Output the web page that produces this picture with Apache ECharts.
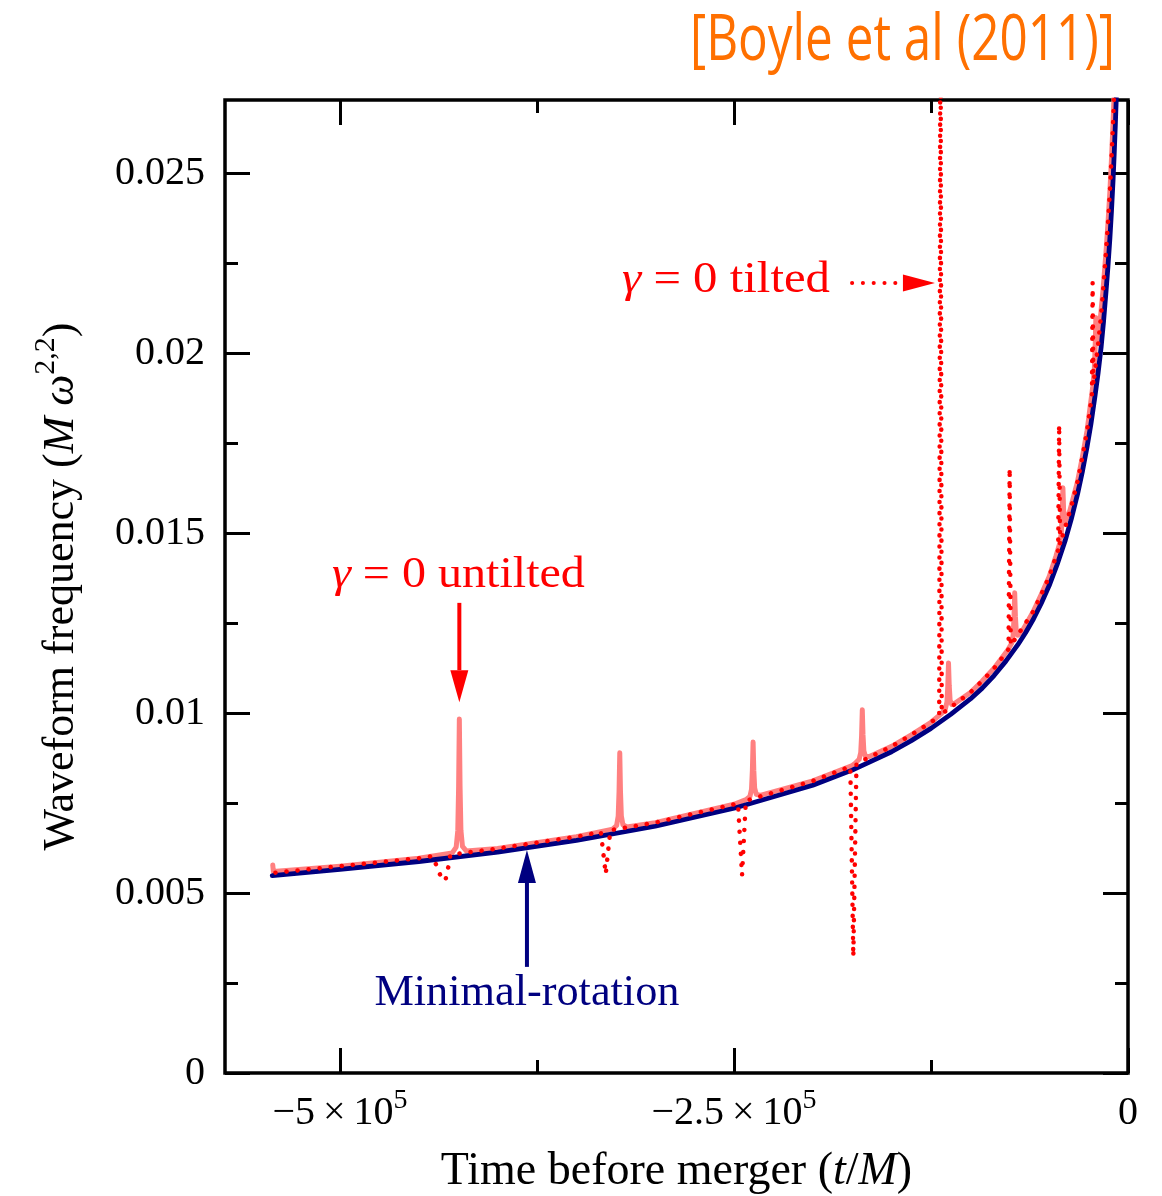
<!DOCTYPE html>
<html>
<head>
<meta charset="utf-8">
<script src="https://cdn.jsdelivr.net/npm/echarts@6/dist/echarts.min.js"></script>
<style>
  html, body { margin: 0; padding: 0; background: #fff; }
  #chart { width: 1162px; height: 1196px; }
</style>
</head>
<body>
<div id="chart"></div>
<script>
// ---------------- data ----------------
const X_MIN = -573000;
const X_MAX = 0;
const Y_MIN = 0;
const Y_MAX = 0.02705;

const X_TICKS_MAJOR = [-500000, -250000, 0];
const X_TICKS_MINOR = [-375000, -125000];
const X_LABEL_MANTISSA = ['\u22125\u2009\u00d7\u200910', '\u22122.5\u2009\u00d7\u200910', '0'];
const X_LABEL_EXPONENT = ['5', '5', ''];

const Y_TICKS_MAJOR = [0, 0.005, 0.01, 0.015, 0.02, 0.025];
const Y_TICK_LABELS = ['0', '0.005', '0.01', '0.015', '0.02', '0.025'];
const Y_TICKS_MINOR = [0.0025, 0.0075, 0.0125, 0.0175, 0.0225];

// Minimal-rotation frame (navy)
const MINIMAL_ROTATION = [
  [-543000, 0.00549], [-500000, 0.00566], [-450000, 0.00588], [-400000, 0.00614],
  [-350000, 0.00647], [-300000, 0.00686], [-250000, 0.00736], [-200000, 0.00800],
  [-175000, 0.00842], [-150000, 0.00893], [-137500, 0.00924], [-125000, 0.00958],
  [-112500, 0.00997], [-100000, 0.01040], [-92500, 0.01070], [-85000, 0.01105],
  [-77500, 0.01145], [-70000, 0.01190], [-65000, 0.01224], [-60000, 0.01262],
  [-55000, 0.01306], [-50000, 0.01355], [-45000, 0.01413], [-40000, 0.01478],
  [-36000, 0.01540], [-32000, 0.01610], [-29000, 0.01671], [-26000, 0.01740],
  [-23500, 0.01805], [-21000, 0.01880], [-19000, 0.01945], [-17000, 0.02020],
  [-15500, 0.02090], [-14000, 0.02170], [-12750, 0.02240], [-11500, 0.02320],
  [-10500, 0.02395], [-9500, 0.02480], [-8750, 0.02555], [-8000, 0.02640],
  [-7400, 0.02715], [-6800, 0.02800]
];

// gamma = 0 untilted (salmon, solid)
const GAMMA0_UNTILTED = [
  [-542700, 0.00578], [-542300, 0.00560], [-541500, 0.00557],
  [-500000, 0.00575], [-450000, 0.00597],
  [-428800, 0.00612], [-426300, 0.00628], [-425300, 0.00673], [-424750, 0.00797],
  [-424300, 0.00984],
  [-423850, 0.00797], [-423300, 0.00675], [-422300, 0.00630], [-419800, 0.00617],
  [-400000, 0.00624], [-350000, 0.00657],
  [-327000, 0.00678], [-324500, 0.00688], [-323500, 0.00714], [-322950, 0.00784],
  [-322500, 0.00890],
  [-322050, 0.00784], [-321500, 0.00715], [-320500, 0.00690], [-318000, 0.00684],
  [-300000, 0.00696], [-250000, 0.00747],
  [-242400, 0.00760], [-239900, 0.00769], [-238900, 0.00789], [-238350, 0.00842],
  [-237900, 0.00920],
  [-237450, 0.00842], [-236900, 0.00792], [-235900, 0.00775], [-233400, 0.00772],
  [-200000, 0.00812], [-175000, 0.00855],
  [-173100, 0.00861], [-170600, 0.00872], [-169600, 0.00891], [-169050, 0.00938],
  [-168600, 0.01010],
  [-168150, 0.00940], [-167600, 0.00895], [-166600, 0.00880], [-164100, 0.00880],
  [-150000, 0.00908], [-137500, 0.00940], [-125000, 0.00975],
  [-118400, 0.00999], [-115900, 0.01012], [-114900, 0.01031], [-114350, 0.01075],
  [-113900, 0.01140],
  [-113450, 0.01078], [-112900, 0.01037], [-111900, 0.01025], [-109400, 0.01029],
  [-100000, 0.01058], [-92500, 0.01090], [-85000, 0.01125],
  [-76400, 0.01175], [-73900, 0.01194], [-72900, 0.01216], [-72350, 0.01265],
  [-71900, 0.01335],
  [-71450, 0.01270], [-70900, 0.01228], [-69900, 0.01217], [-67400, 0.01227],
  [-60000, 0.01284], [-55000, 0.01331], [-50000, 0.01380],
  [-45800, 0.01436], [-43300, 0.01473], [-42300, 0.01502], [-41750, 0.01554],
  [-41300, 0.01627],
  [-40850, 0.01565], [-40300, 0.01527], [-39300, 0.01527], [-36800, 0.01565],
  [-32000, 0.01645], [-29000, 0.01711], [-26000, 0.01785],
  [-24900, 0.01822], [-22400, 0.01907], [-21400, 0.01954], [-20850, 0.02016],
  [-20400, 0.02100],
  [-19950, 0.02053], [-19400, 0.02033], [-18400, 0.02059], [-15900, 0.02174],
  [-14000, 0.02280], [-12750, 0.02360], [-11500, 0.02450], [-10500, 0.02540],
  [-9500, 0.02640], [-8750, 0.02725], [-8000, 0.02820]
];

// gamma = 0 tilted (red, dotted)
const GAMMA0_TILTED = [
  [-541000, 0.00557], [-500000, 0.00575], [-450000, 0.00597],
  [-441500, 0.00603], [-439500, 0.00584], [-436500, 0.00551], [-433200, 0.00534],
  [-431300, 0.00573], [-430000, 0.00607],
  [-400000, 0.00624], [-350000, 0.00657],
  [-334500, 0.00670], [-331400, 0.00553], [-328500, 0.00675],
  [-300000, 0.00696], [-250000, 0.00747],
  [-247500, 0.00750], [-244900, 0.00550], [-242500, 0.00757],
  [-200000, 0.00812],
  [-176200, 0.00852], [-174300, 0.00323], [-172300, 0.00860],
  [-150000, 0.00908], [-137500, 0.00940], [-125000, 0.00975],
  [-119800, 0.00992], [-119000, 0.03200], [-118200, 0.00998],
  [-100000, 0.01058], [-92500, 0.01090], [-85000, 0.01125],
  [-75800, 0.01178], [-75100, 0.01682], [-74400, 0.01188],
  [-60000, 0.01284], [-55000, 0.01331], [-50000, 0.01380],
  [-44300, 0.01454], [-43700, 0.01802], [-43100, 0.01469],
  [-36000, 0.01575], [-32000, 0.01645], [-29000, 0.01711], [-26000, 0.01785],
  [-22900, 0.01885], [-22450, 0.02197], [-22000, 0.01913],
  [-19000, 0.02025], [-17000, 0.02110], [-15500, 0.02195], [-14000, 0.02280],
  [-12750, 0.02360], [-11500, 0.02450], [-10500, 0.02540], [-9500, 0.02640],
  [-8750, 0.02725], [-8000, 0.02820]
];

// annotation anchors in data coordinates
const UNTILTED_ARROW = [[-424300, 0.01307], [-424300, 0.01031]];   // tail, tip
const UNTILTED_TEXT_AT = [-424900, 0.01384];
const MINIMAL_ARROW = [[-381400, 0.00295], [-381400, 0.00620]];    // tail, tip
const MINIMAL_TEXT_AT = [-381400, 0.00222];
const TILTED_ARROW = [[-175100, 0.02196], [-122500, 0.02196]];     // tail, tip
const TILTED_TEXT_AT = [-255100, 0.02202];

// ---------------- chart ----------------
const SERIF = '"Liberation Serif", "DejaVu Serif", serif';
const chart = echarts.init(document.getElementById('chart'), null, { renderer: 'canvas' });

const GRID_RECT = { left: 225, top: 100, width: 903, height: 973 };

function tickAxis(kind, gridIndex, position, values, len, labels) {
  const ax = {
    type: 'value', gridIndex: gridIndex, position: position,
    min: kind === 'x' ? X_MIN : Y_MIN,
    max: kind === 'x' ? X_MAX : Y_MAX,
    axisLine: { show: false, onZero: false },
    splitLine: { show: false },
    axisTick: { show: true, inside: true, length: len, customValues: values,
                lineStyle: { color: '#000', width: 3 } },
    axisLabel: { show: false }
  };
  if (labels) ax.axisLabel = labels;
  return ax;
}

const xLabel = {
  show: true, customValues: X_TICKS_MAJOR, margin: 14,
  showMinLabel: true, showMaxLabel: true,
  formatter: function (v) {
    const i = X_TICKS_MAJOR.indexOf(v);
    if (i < 0) return '';
    return '{n|' + X_LABEL_MANTISSA[i] + '}' + (X_LABEL_EXPONENT[i] ? '{s|' + X_LABEL_EXPONENT[i] + '}' : '');
  },
  rich: {
    n: { fontFamily: SERIF, fontSize: 40, color: '#000', lineHeight: 46, verticalAlign: 'bottom' },
    s: { fontFamily: SERIF, fontSize: 28, color: '#000', lineHeight: 28, verticalAlign: 'top' }
  }
};
const yLabel = {
  show: true, customValues: Y_TICKS_MAJOR, margin: 20,
  showMinLabel: true, showMaxLabel: true,
  fontFamily: SERIF, fontSize: 40, color: '#000',
  formatter: function (v) {
    let best = 0;
    Y_TICKS_MAJOR.forEach(function (t, i) { if (Math.abs(t - v) < Math.abs(Y_TICKS_MAJOR[best] - v)) best = i; });
    return Y_TICK_LABELS[best];
  }
};

const xMain = tickAxis('x', 0, 'bottom', X_TICKS_MAJOR, 25, xLabel);
xMain.name = '{r|Time before merger (}{i|t}{r|/}{i|M}{r|)}';
xMain.nameLocation = 'middle';
xMain.nameGap = 76;
xMain.nameTextStyle = { rich: {
  r: { fontFamily: SERIF, fontSize: 46, color: '#000' },
  i: { fontFamily: SERIF, fontSize: 46, color: '#000', fontStyle: 'italic' }
} };

const yMain = tickAxis('y', 0, 'left', Y_TICKS_MAJOR, 25, yLabel);
yMain.name = '{r|Waveform frequency (}{i|M}{r| }{i|\u03c9}{s|2,2}{r|)}';
yMain.nameLocation = 'middle';
yMain.nameRotate = 90;
yMain.nameGap = 142;
yMain.nameTextStyle = { rich: {
  r: { fontFamily: SERIF, fontSize: 44, color: '#000', lineHeight: 52, verticalAlign: 'bottom' },
  i: { fontFamily: SERIF, fontSize: 44, color: '#000', fontStyle: 'italic', lineHeight: 52, verticalAlign: 'bottom' },
  s: { fontFamily: SERIF, fontSize: 30, color: '#000', lineHeight: 30, verticalAlign: 'top' }
} };

const option = {
  animation: false,
  backgroundColor: '#ffffff',
  grid: [
    Object.assign({ show: true, borderColor: '#000', borderWidth: 3.5, backgroundColor: 'transparent',
                    containLabel: false, outerBoundsMode: 'none' }, GRID_RECT),
    Object.assign({ show: false, containLabel: false, outerBoundsMode: 'none' }, GRID_RECT)
  ],
  xAxis: [
    xMain,
    tickAxis('x', 0, 'top', X_TICKS_MAJOR, 25),
    tickAxis('x', 1, 'bottom', X_TICKS_MINOR, 13),
    tickAxis('x', 1, 'top', X_TICKS_MINOR, 13)
  ],
  yAxis: [
    yMain,
    tickAxis('y', 0, 'right', Y_TICKS_MAJOR, 25),
    tickAxis('y', 1, 'left', Y_TICKS_MINOR, 13),
    tickAxis('y', 1, 'right', Y_TICKS_MINOR, 13)
  ],
  series: [
    { type: 'line', name: 'untilted', data: GAMMA0_UNTILTED, xAxisIndex: 0, yAxisIndex: 0,
      showSymbol: false, symbol: 'none', clip: true, z: 2,
      lineStyle: { color: '#ff8080', width: 5, join: 'round', cap: 'round' } },
    { type: 'line', name: 'minimal', data: MINIMAL_ROTATION, xAxisIndex: 0, yAxisIndex: 0,
      showSymbol: false, symbol: 'none', clip: true, z: 3,
      lineStyle: { color: '#000080', width: 4.8, join: 'round', cap: 'round' } },
    { type: 'line', name: 'tilted', data: GAMMA0_TILTED, xAxisIndex: 0, yAxisIndex: 0,
      showSymbol: false, symbol: 'none', clip: true, z: 4,
      lineStyle: { color: '#ff0000', width: 4.5, type: [0.1, 11], cap: 'round', join: 'round' } }
  ]
};
chart.setOption(option);

function px(pt) { return chart.convertToPixel({ xAxisIndex: 0, yAxisIndex: 0 }, pt); }

function vArrow(tail, tip, color, headW, headL) {
  const a = px(tail), b = px(tip);
  const dir = b[1] < a[1] ? -1 : 1;
  const baseY = b[1] - dir * headL;
  return [
    { type: 'line', shape: { x1: a[0], y1: a[1], x2: b[0], y2: baseY },
      style: { stroke: color, lineWidth: 4 }, z: 100 },
    { type: 'polygon', shape: { points: [[b[0] - headW / 2, baseY], [b[0] + headW / 2, baseY], [b[0], b[1]]] },
      style: { fill: color }, z: 100 }
  ];
}

const measureCtx = document.createElement('canvas').getContext('2d');
function measure(parts) {
  let w = 0;
  parts.forEach(function (p) { measureCtx.font = p[0]; w += measureCtx.measureText(p[1]).width; });
  return w || 1;
}

function annotate() {
  const els = [];
  els.push.apply(els, vArrow(UNTILTED_ARROW[0], UNTILTED_ARROW[1], '#ff0000', 18, 32));
  els.push.apply(els, vArrow(MINIMAL_ARROW[0], MINIMAL_ARROW[1], '#000080', 18, 33));

  const ta = px(TILTED_ARROW[0]), tb = px(TILTED_ARROW[1]);
  els.push({ type: 'line', shape: { x1: ta[0], y1: ta[1], x2: tb[0] - 34, y2: tb[1] },
             style: { stroke: '#ff0000', lineWidth: 4, lineDash: [0.1, 10.7], lineCap: 'round' }, z: 100 });
  els.push({ type: 'polygon', shape: { points: [[tb[0] - 32, tb[1] - 8.5], [tb[0] - 32, tb[1] + 8.5], [tb[0], tb[1]]] },
             style: { fill: '#ff0000' }, z: 100 });

  const FS = 44;
  const fItal = 'italic ' + FS + 'px "Liberation Serif"';
  const fReg = FS + 'px "Liberation Serif"';
  const richRed = {
    g: { fontFamily: SERIF, fontSize: FS, fontStyle: 'italic', fill: '#ff0000' },
    r: { fontFamily: SERIF, fontSize: FS, fill: '#ff0000' }
  };
  const u = px(UNTILTED_TEXT_AT);
  els.push({ type: 'text', x: u[0], y: u[1], z: 100,
             scaleX: 253 / measure([[fItal, '\u03b3'], [fReg, ' = 0 untilted']]),
             style: { text: '{g|\u03b3}{r| = 0 untilted}', rich: richRed, align: 'center', verticalAlign: 'middle',
                      fontFamily: SERIF, fontSize: FS, fill: '#ff0000' } });
  const t = px(TILTED_TEXT_AT);
  els.push({ type: 'text', x: t[0], y: t[1], z: 100,
             scaleX: 208 / measure([[fItal, '\u03b3'], [fReg, ' = 0 tilted']]),
             style: { text: '{g|\u03b3}{r| = 0 tilted}', rich: richRed, align: 'center', verticalAlign: 'middle',
                      fontFamily: SERIF, fontSize: FS, fill: '#ff0000' } });
  const m = px(MINIMAL_TEXT_AT);
  els.push({ type: 'text', x: m[0], y: m[1], z: 100,
             scaleX: 305 / measure([[fReg, 'Minimal-rotation']]),
             style: { text: 'Minimal-rotation', align: 'center', verticalAlign: 'middle',
                      fontFamily: SERIF, fontSize: FS, fill: '#000080' } });

  // citation, condensed to the reference width
  const citeFont = '64px "Open Sans", "DejaVu Sans", sans-serif';
  const citeText = '[Boyle et al (2011)]';
  els.push({ type: 'text', x: 1115, y: 42, scaleX: 425 / measure([[citeFont, citeText]]), z: 100,
             style: { text: citeText, font: citeFont, fill: '#ff7000', align: 'right', verticalAlign: 'middle' } });

  chart.setOption({ graphic: els });
}
annotate();
</script>
</body>
</html>
